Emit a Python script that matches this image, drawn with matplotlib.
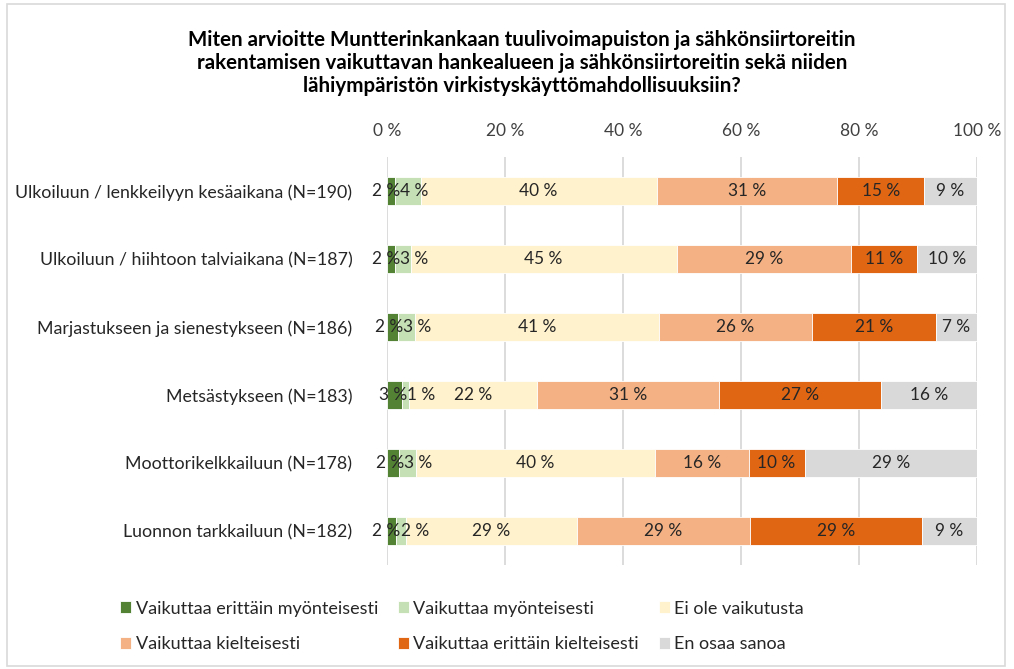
import matplotlib.pyplot as plt
from matplotlib.patches import Rectangle
import numpy as np

plt.rcParams['font.family'] = ['Lato', 'DejaVu Sans']

# Categories (top to bottom)
categories = [
    "Ulkoiluun / lenkkeilyyn kesäaikana (N=190)",
    "Ulkoiluun / hiihtoon talviaikana (N=187)",
    "Marjastukseen ja sienestykseen (N=186)",
    "Metsästykseen (N=183)",
    "Moottorikelkkailuun (N=178)",
    "Luonnon tarkkailuun (N=182)",
]
series_names = [
    "Vaikuttaa erittäin myönteisesti",
    "Vaikuttaa myönteisesti",
    "Ei ole vaikutusta",
    "Vaikuttaa kielteisesti",
    "Vaikuttaa erittäin kielteisesti",
    "En osaa sanoa",
]

# shares (%) per series
very_positive = [1.4, 1.4, 1.9, 2.6, 2.1, 1.5]
positive = [4.3, 2.6, 2.85, 1.1, 2.8, 1.7]
no_effect = [40.0, 45.1, 41.35, 21.7, 40.5, 29.0]
negative = [30.6, 29.6, 26.0, 30.9, 15.9, 29.3]
very_negative = [14.8, 11.2, 21.0, 27.4, 9.5, 29.2]
dont_know = [8.9, 10.1, 6.9, 16.3, 29.2, 9.3]

# printed data labels
very_positive_lbl = [2, 2, 2, 3, 2, 2]
positive_lbl = [4, 3, 3, 1, 3, 2]
no_effect_lbl = [40, 45, 41, 22, 40, 29]
negative_lbl = [31, 29, 26, 31, 16, 29]
very_negative_lbl = [15, 11, 21, 27, 10, 29]
dont_know_lbl = [9, 10, 7, 16, 29, 9]

values = [very_positive, positive, no_effect, negative, very_negative, dont_know]
labels = [very_positive_lbl, positive_lbl, no_effect_lbl, negative_lbl,
          very_negative_lbl, dont_know_lbl]
colors = ["#548235", "#C5E0B4", "#FFF2CC", "#F4B183", "#E06614", "#D9D9D9"]

fig = plt.figure(figsize=(10.14, 6.69), dpi=100)
ax = fig.add_axes([0.3817, 0.1555, 0.5816, 0.6099])

y = np.arange(len(categories))
left = np.zeros(len(categories))
for k, (vals, lbls, col, name) in enumerate(zip(values, labels, colors, series_names)):
    vals = np.array(vals)
    ax.barh(y, vals, left=left, height=0.42, color=col, label=name,
            edgecolor='white', linewidth=0.6, zorder=3)
    for yi, (v, l, le) in enumerate(zip(vals, lbls, left)):
        # the two thin green segments: push labels apart so they touch, not overlap
        if k == 0:
            xpos, ha = le + v + 0.8, 'right'
        elif k == 1:
            xpos, ha = le + 0.8, 'left'
        else:
            xpos, ha = le + v / 2, 'center'
        ax.text(xpos, yi, "{} %".format(l), ha=ha, va='center',
                fontsize=12.4, color='#262626', zorder=4)
    left = left + vals

ax.set_xlim(0, 100)
ax.set_ylim(len(categories) - 0.5, -0.5)
ax.set_yticks(y)
ax.set_yticklabels(categories, fontsize=12.8, color='#262626')
ax.set_xticks(np.arange(0, 101, 20))
ax.set_xticklabels(["{} %".format(t) for t in range(0, 101, 20)],
                   fontsize=12.5, color='#404040')
ax.xaxis.tick_top()
ax.tick_params(length=0)
ax.tick_params(axis='y', pad=25)
ax.tick_params(axis='x', pad=13)
ax.grid(axis='x', color='#D9D9D9', linewidth=1.3, zorder=0)
for s in ax.spines.values():
    s.set_visible(False)

fig.text(0.515, 0.955,
         "Miten arvioitte Muntterinkankaan tuulivoimapuiston ja sähkönsiirtoreitin\n"
         "rakentamisen vaikuttavan hankealueen ja sähkönsiirtoreitin sekä niiden\n"
         "lähiympäristön virkistyskäyttömahdollisuuksiin?",
         ha='center', va='top', fontsize=14.8, fontweight='bold',
         color='#000000', linespacing=1.17)

# legend filled row by row
handles, lbls = ax.get_legend_handles_labels()
order = [0, 3, 1, 4, 2, 5]
fig.legend([handles[i] for i in order], [lbls[i] for i in order],
           loc='center', bbox_to_anchor=(0.4556, 0.0635), ncol=3,
           frameon=False, fontsize=13, handlelength=0.6, handleheight=0.65,
           handletextpad=0.25, columnspacing=1.1, labelspacing=1.1,
           labelcolor='#262626')

fig.patches.append(Rectangle((7 / 1014, 3 / 669), 998 / 1014, 662 / 669,
                             transform=fig.transFigure, fill=False,
                             edgecolor='#D9D9D9', linewidth=1.2))

plt.savefig("out.png", dpi=100)
